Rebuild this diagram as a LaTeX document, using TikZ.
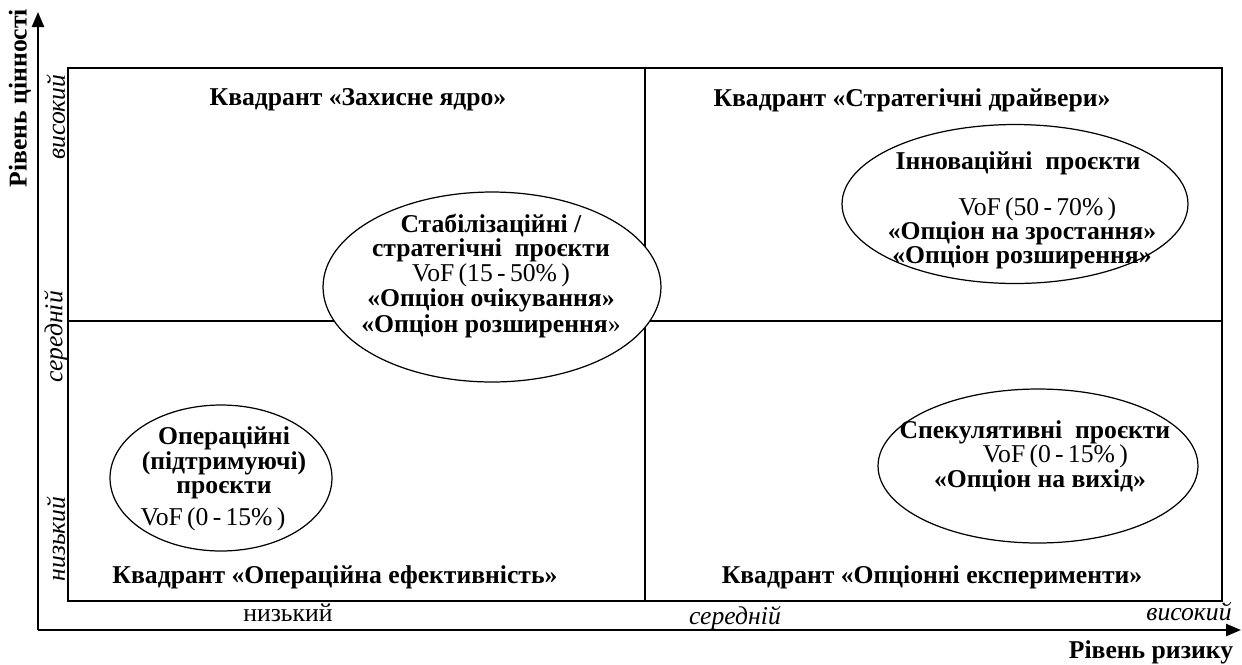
\documentclass[tikz,border=0pt]{standalone}
\usepackage{fontspec}
\setmainfont{Liberation Serif}
\usetikzlibrary{arrows.meta, shapes.geometric}

\begin{document}
\begin{tikzpicture}[x=0.02cm, y=-0.02cm,
    axis/.style={-{Triangle[length=0.3cm, width=0.24cm]}, line width=1.4pt},
    frame/.style={line width=0.8pt},
    divider/.style={line width=0.6pt},
    project/.style={draw, ellipse, fill=white, line width=0.7pt, inner sep=0pt},
    ptext/.style={align=center, inner sep=0pt, font=\fontsize{14.6}{12.6}\selectfont},
    quad/.style={inner sep=0pt, font=\fontsize{14.6}{15}\selectfont\bfseries},
    level/.style={inner sep=0pt, font=\fontsize{14.6}{15}\selectfont\itshape},
    plainlevel/.style={inner sep=0pt, font=\fontsize{14.6}{15}\selectfont},
    title/.style={inner sep=0pt, font=\fontsize{14.6}{15}\selectfont\bfseries},
]
    \useasboundingbox (0,0) rectangle (1242,664);

    % Axes
    \coordinate (o) at (38,630);
    \coordinate (ytop) at (38,12);
    \coordinate (xend) at (1241,630);
    \draw[axis] (o) -- (ytop);
    \draw[axis] (o) -- (xend);

    % Matrix frame and quadrant dividers
    \coordinate (nw) at (68,68);
    \coordinate (se) at (1222,601);
    \coordinate (mid) at (645,321);
    \draw[frame] (nw) rectangle (se);
    \draw[divider] (mid |- nw) -- (mid |- se);
    \draw[divider] (mid -| nw) -- (mid -| se);

    % Axis titles
    \node[title, rotate=90] (vtitle) at (20,98) {Рівень цінності};
    \node[title] (rtitle) at (1151,652) {Рівень ризику};

    % Value levels
    \node[level, rotate=90] (vhigh) at (56,117) {високий};
    \node[level, rotate=90] (vmid) at (56,337) {середній};
    \node[level, rotate=90] (vlow) at (56,539) {низький};

    % Risk levels
    \node[plainlevel] (rlow) at (288,613) {низький};
    \node[level] (rmid) at (735,618) {середній};
    \node[level] (rhigh) at (1189,612) {високий};

    % Quadrant labels
    \node[quad] (qcore) at (358,100) {Квадрант «Захисне ядро»};
    \node[quad] (qdrive) at (912,100) {Квадрант «Стратегічні драйвери»};
    \node[quad] (qeff) at (335,577) {Квадрант «Операційна ефективність»};
    \node[quad] (qexp) at (932,577) {Квадрант «Опціонні експерименти»};

    % Stabilising / strategic projects
    \node[project, minimum width=6.76cm, minimum height=3.8cm] (stab) at (492,287) {};
    \node[ptext] (stabtxt) at (491,276) {\textbf{Стабілізаційні /}\\
        \textbf{стратегічні\ \ проєкти}\\
        VoF\,(15\,-\,50\%\,)\\
        \textbf{«Опціон очікування»}\\
        \textbf{«Опціон розширення}»};

    % Innovation projects
    \node[project, minimum width=6.92cm, minimum height=3.18cm] (inno) at (1015,204) {};
    \node[ptext, font=\fontsize{14.6}{13.8}\selectfont\bfseries] (innohead) at (1018,163) {Інноваційні\ \ проєкти};
    \node[ptext, font=\fontsize{14.6}{13.6}\selectfont] (innotxt) at (1022,233) {\hspace*{1.2em}VoF\,(50\,-\,70\%\,)\\
        \textbf{«Опціон на зростання»}\\
        \textbf{«Опціон розширення»}};

    % Operational projects
    \node[project, minimum width=4.44cm, minimum height=2.92cm] (oper) at (221,478) {};
    \node[ptext, font=\fontsize{14.6}{14}\selectfont\bfseries] (opertxt) at (224,463) {Операційні\\
        (підтримуючі)\\
        проєкти};
    \node[ptext] (opervof) at (213,519) {VoF\,(0\,-\,15\%\,)};

    % Speculative projects
    \node[project, minimum width=6.4cm, minimum height=3.08cm] (spec) at (1038,466) {};
    \node[ptext, font=\fontsize{14.6}{15}\selectfont\bfseries] (spechead) at (1035,432) {Спекулятивні\ \ проєкти};
    \node[ptext, font=\fontsize{14.6}{11.2}\selectfont] (spectxt) at (1040,468) {\hspace*{1.2em}VoF\,(0\,-\,15\%\,)\\
        \textbf{«Опціон на вихід»}};
\end{tikzpicture}
\end{document}
